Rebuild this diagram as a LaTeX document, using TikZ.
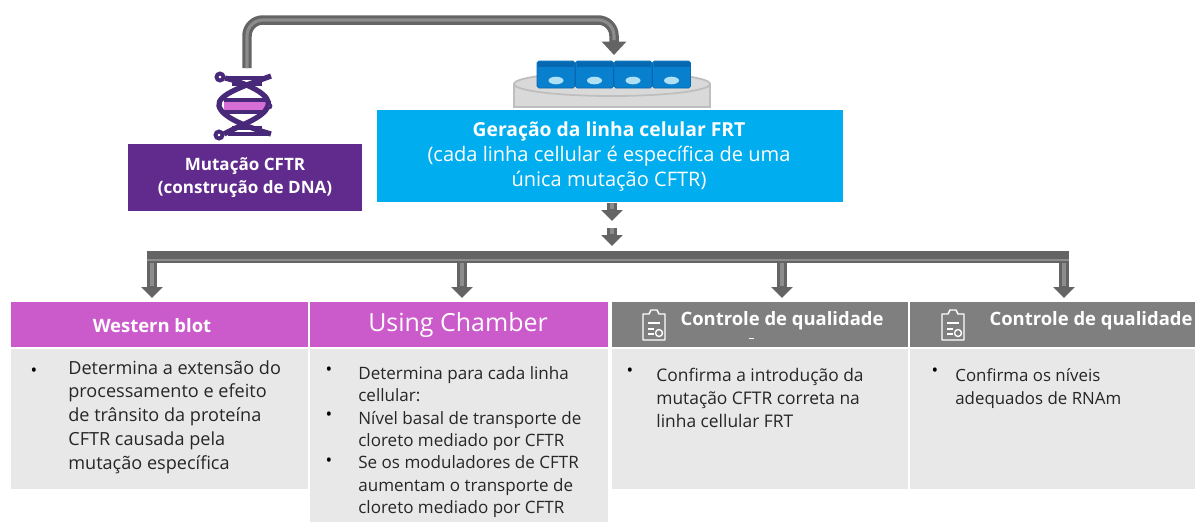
\documentclass[tikz,border=0pt]{standalone}
\usepackage{fontspec}
\setmainfont{Open Sans}
\usetikzlibrary{arrows.meta,calc}

\begin{document}
\begin{tikzpicture}[
    x=0.02cm, y=-0.02cm,
    pipe/.style={draw=pipedark,line width=5.4pt,rounded corners=9pt,
      -{Triangle[length=2.7mm,width=4.8mm]},
      postaction={draw=pipelight,line width=1.8pt,-,shorten >=3mm}},
    stub/.style={draw=pipedark,line width=5.4pt,-{Triangle[length=2.2mm,width=4.2mm]},
      postaction={draw=pipelight,line width=1.8pt,-,shorten >=2.4mm}},
    box/.style={anchor=north west,inner sep=0pt,outer sep=0pt},
    hdrpink/.style={box,fill=hdrpinkfill,minimum height=0.9cm},
    hdrgray/.style={box,fill=hdrgrayfill,minimum height=0.9cm},
    body/.style={box,fill=bodyfill},
    hdrtxt/.style={text=white,font=\bfseries\fontsize{10.5}{12}\selectfont,inner sep=0pt},
    txt/.style={anchor=north west,align=left,inner sep=0pt,text=black!85,font=\fontsize{10.3}{13.55}\selectfont},
    smalltxt/.style={txt,font=\fontsize{9.7}{12.75}\selectfont},
    dot/.style={anchor=center,inner sep=0pt,text=black,font=\fontsize{10}{10}\selectfont},
    clipicon/.pic={
      \draw[white,line width=0.8pt,line join=round] (-11,-11) -- (-5,-11) -- (-3,-15) -- (3,-15) -- (5,-11) -- (11,-11)
        -- (11,15) -- (-11,15) -- cycle;
      \draw[white,line width=0.8pt] (-6,-2) -- (6,-2) (-6,4) -- (0,4) (-6,9) -- (0,9);
      \draw[white,line width=0.8pt] (5,8) circle (3.5);
    },
]
\definecolor{pipedark}{RGB}{100,100,100}  \definecolor{pipelight}{RGB}{140,140,140}
\definecolor{mutfill}{RGB}{96,43,140}     \definecolor{frtfill}{RGB}{0,174,239}
\definecolor{hdrpinkfill}{RGB}{203,91,203} \definecolor{hdrgrayfill}{RGB}{127,127,127}
\definecolor{bodyfill}{RGB}{232,232,232}
\definecolor{helix}{RGB}{72,40,120}       \definecolor{helixhi}{RGB}{214,110,214}
\definecolor{dishfill}{RGB}{217,217,217}  \definecolor{dishline}{RGB}{190,190,190}
\definecolor{cellfill}{RGB}{8,128,206}    \definecolor{celltop}{RGB}{6,104,176}
\definecolor{nucfill}{RGB}{176,224,244}

% top row: construct box and cell line box
\node[box,fill=mutfill,minimum width=4.68cm,minimum height=1.34cm,text=white,align=center,
  font=\bfseries\fontsize{9.7}{13.2}\selectfont] (mutBox) at (128,144) {Mutação CFTR\\(construção de DNA)};
\node[box,fill=frtfill,minimum width=9.32cm,minimum height=1.84cm] (frtBox) at (377,110) {};
\node[text=white,align=center,inner sep=0pt,font=\fontsize{11.4}{14.2}\selectfont] (frtTxt) at (609,157) {\textbf{\fontsize{11}{14.2}\selectfont Geração da linha celular FRT}\\(cada linha cellular é específica de uma\\única mutação CFTR)};

% helix above the construct box
\coordinate (dnaTop) at (247,68);
\begin{scope}[helix,line width=2pt]
  \fill[helixhi] (224,100) rectangle (266,112);
  \draw[line width=3pt] (225,78) .. controls (250,84) and (272,96) .. (268,106) .. controls (264,118) and (240,125) .. (224,134);
  \draw[line width=3pt] (271,76) .. controls (250,84) and (216,94) .. (219,106) .. controls (222,118) and (250,128) .. (271,134);
  \draw (228,78) -- (268,78) (232,84) -- (262,84) (232,128) -- (262,128) (228,134) -- (268,134);
  \draw (224,100) -- (266,100) (224,112) -- (266,112);
  \draw[fill=white,line width=2.2pt] (220,77) circle (3.5) (219,135) circle (3.5);
  \draw[fill=white,line width=1.5pt] (269,106) circle (2);
\end{scope}

% culture dish with the four cells
\draw[dishline,fill=dishfill,line width=0.8pt] (514,84) -- (514,107) -- (710,107) -- (710,84);
\draw[dishline,fill=dishfill,line width=1pt] (612,84) ellipse (98 and 12);
\coordinate (dishTop) at (614,55);
\foreach \i in {0,...,3}{
  \node[box,fill=cellfill,draw=celltop,line width=0.4pt,rounded corners=1pt,minimum width=0.76cm,minimum height=0.54cm] (cell\i) at (537+\i*38.5,61) {};
  \fill[celltop] ($(cell\i.north west)+(1,1)$) rectangle ($(cell\i.north east)+(-1,6)$);
  \fill[nucfill] ($(cell\i.center)+(0,6)$) ellipse (7.5 and 3.8);
}

% pipes
\draw[pipe] (dnaTop) -- (247,20) -- (614,20) -- (dishTop);

\coordinate (stemA) at (612,203);
\coordinate (stemB) at (612,228);
\draw[stub] (stemA) -- (612,221);
\draw[stub] (stemB) -- (612,246);

% western blot column
\node[hdrpink,minimum width=5.94cm] (wbHdr) at (11,302) {};
\node[hdrtxt] (wbTxt) at (152,326) {Western blot};
\node[body,minimum width=5.94cm,minimum height=2.8cm] (wbBody) at (11,349) {};
\node[dot] (wbDot) at (34,372) {\textbullet};
\node[txt] (wbList) at (68,360) {Determina a extensão do\\processamento e efeito\\de trânsito da proteína\\CFTR causada pela\\mutação específica};

% chamber column
\node[hdrpink,minimum width=5.96cm] (ucHdr) at (310,302) {};
\node[hdrtxt,font=\fontsize{14.2}{16}\selectfont] (ucTxt) at (458,325) {Using Chamber};
\node[body,minimum width=5.96cm,minimum height=3.46cm] (ucBody) at (310,349) {};
\node[dot] (ucDotA) at (329,371) {\textbullet};
\node[dot] (ucDotB) at (329,416) {\textbullet};
\node[dot] (ucDotC) at (329,462) {\textbullet};
\node[smalltxt] (ucList) at (358,366) {Determina para cada linha\\cellular:\\Nível basal de transporte de\\cloreto mediado por CFTR\\Se os moduladores de CFTR\\aumentam o transporte de\\cloreto mediado por CFTR};

% quality control columns
\node[hdrgray,minimum width=5.92cm] (qcHdrA) at (612,302) {};
\pic at (654,325) {clipicon};
\node[hdrtxt] (qcTxtA) at (782,321) {Controle de qualidade};
\draw[white,line width=0.5pt] (749,338) -- (754,338);
\node[body,minimum width=5.92cm,minimum height=2.8cm] (qcBodyA) at (612,349) {};
\node[dot] (qcDotA) at (630,372) {\textbullet};
\node[smalltxt,font=\fontsize{9.9}{13}\selectfont] (qcListA) at (656,368) {Confirma a introdução da\\mutação CFTR correta na\\linha cellular FRT};

\node[hdrgray,minimum width=5.7cm] (qcHdrB) at (910,302) {};
\pic at (953,325) {clipicon};
\node[hdrtxt] (qcTxtB) at (1091,321) {Controle de qualidade};
\node[body,minimum width=5.7cm,minimum height=2.8cm] (qcBodyB) at (910,349) {};
\node[dot] (qcDotB) at (935,372) {\textbullet};
\node[smalltxt,font=\fontsize{9.6}{13}\selectfont] (qcListB) at (955,368) {Confirma os níveis\\adequados de RNAm};

% drops from the bar to each column header
\coordinate (dropA) at (152,260);
\coordinate (dropB) at (462,260);
\coordinate (dropC) at (782,260);
\coordinate (dropD) at (1064,260);
\draw[stub] (dropA) -- (152,298);
\draw[stub] (dropB) -- (462,298);
\draw[stub] (dropC) -- (782,298);
\draw[stub] (dropD) -- (1064,298);

% the bar itself goes over the drops
\coordinate (barL) at (147,257);
\coordinate (barR) at (1069,257);
\draw[draw=pipedark,line width=6.8pt] (barL) -- (barR);
\draw[draw=pipelight,line width=1.6pt] ($(barL)+(0,3)$) -- ($(barR)+(0,3)$);

\useasboundingbox (0,0) rectangle (1195,522);
\end{tikzpicture}
\end{document}
